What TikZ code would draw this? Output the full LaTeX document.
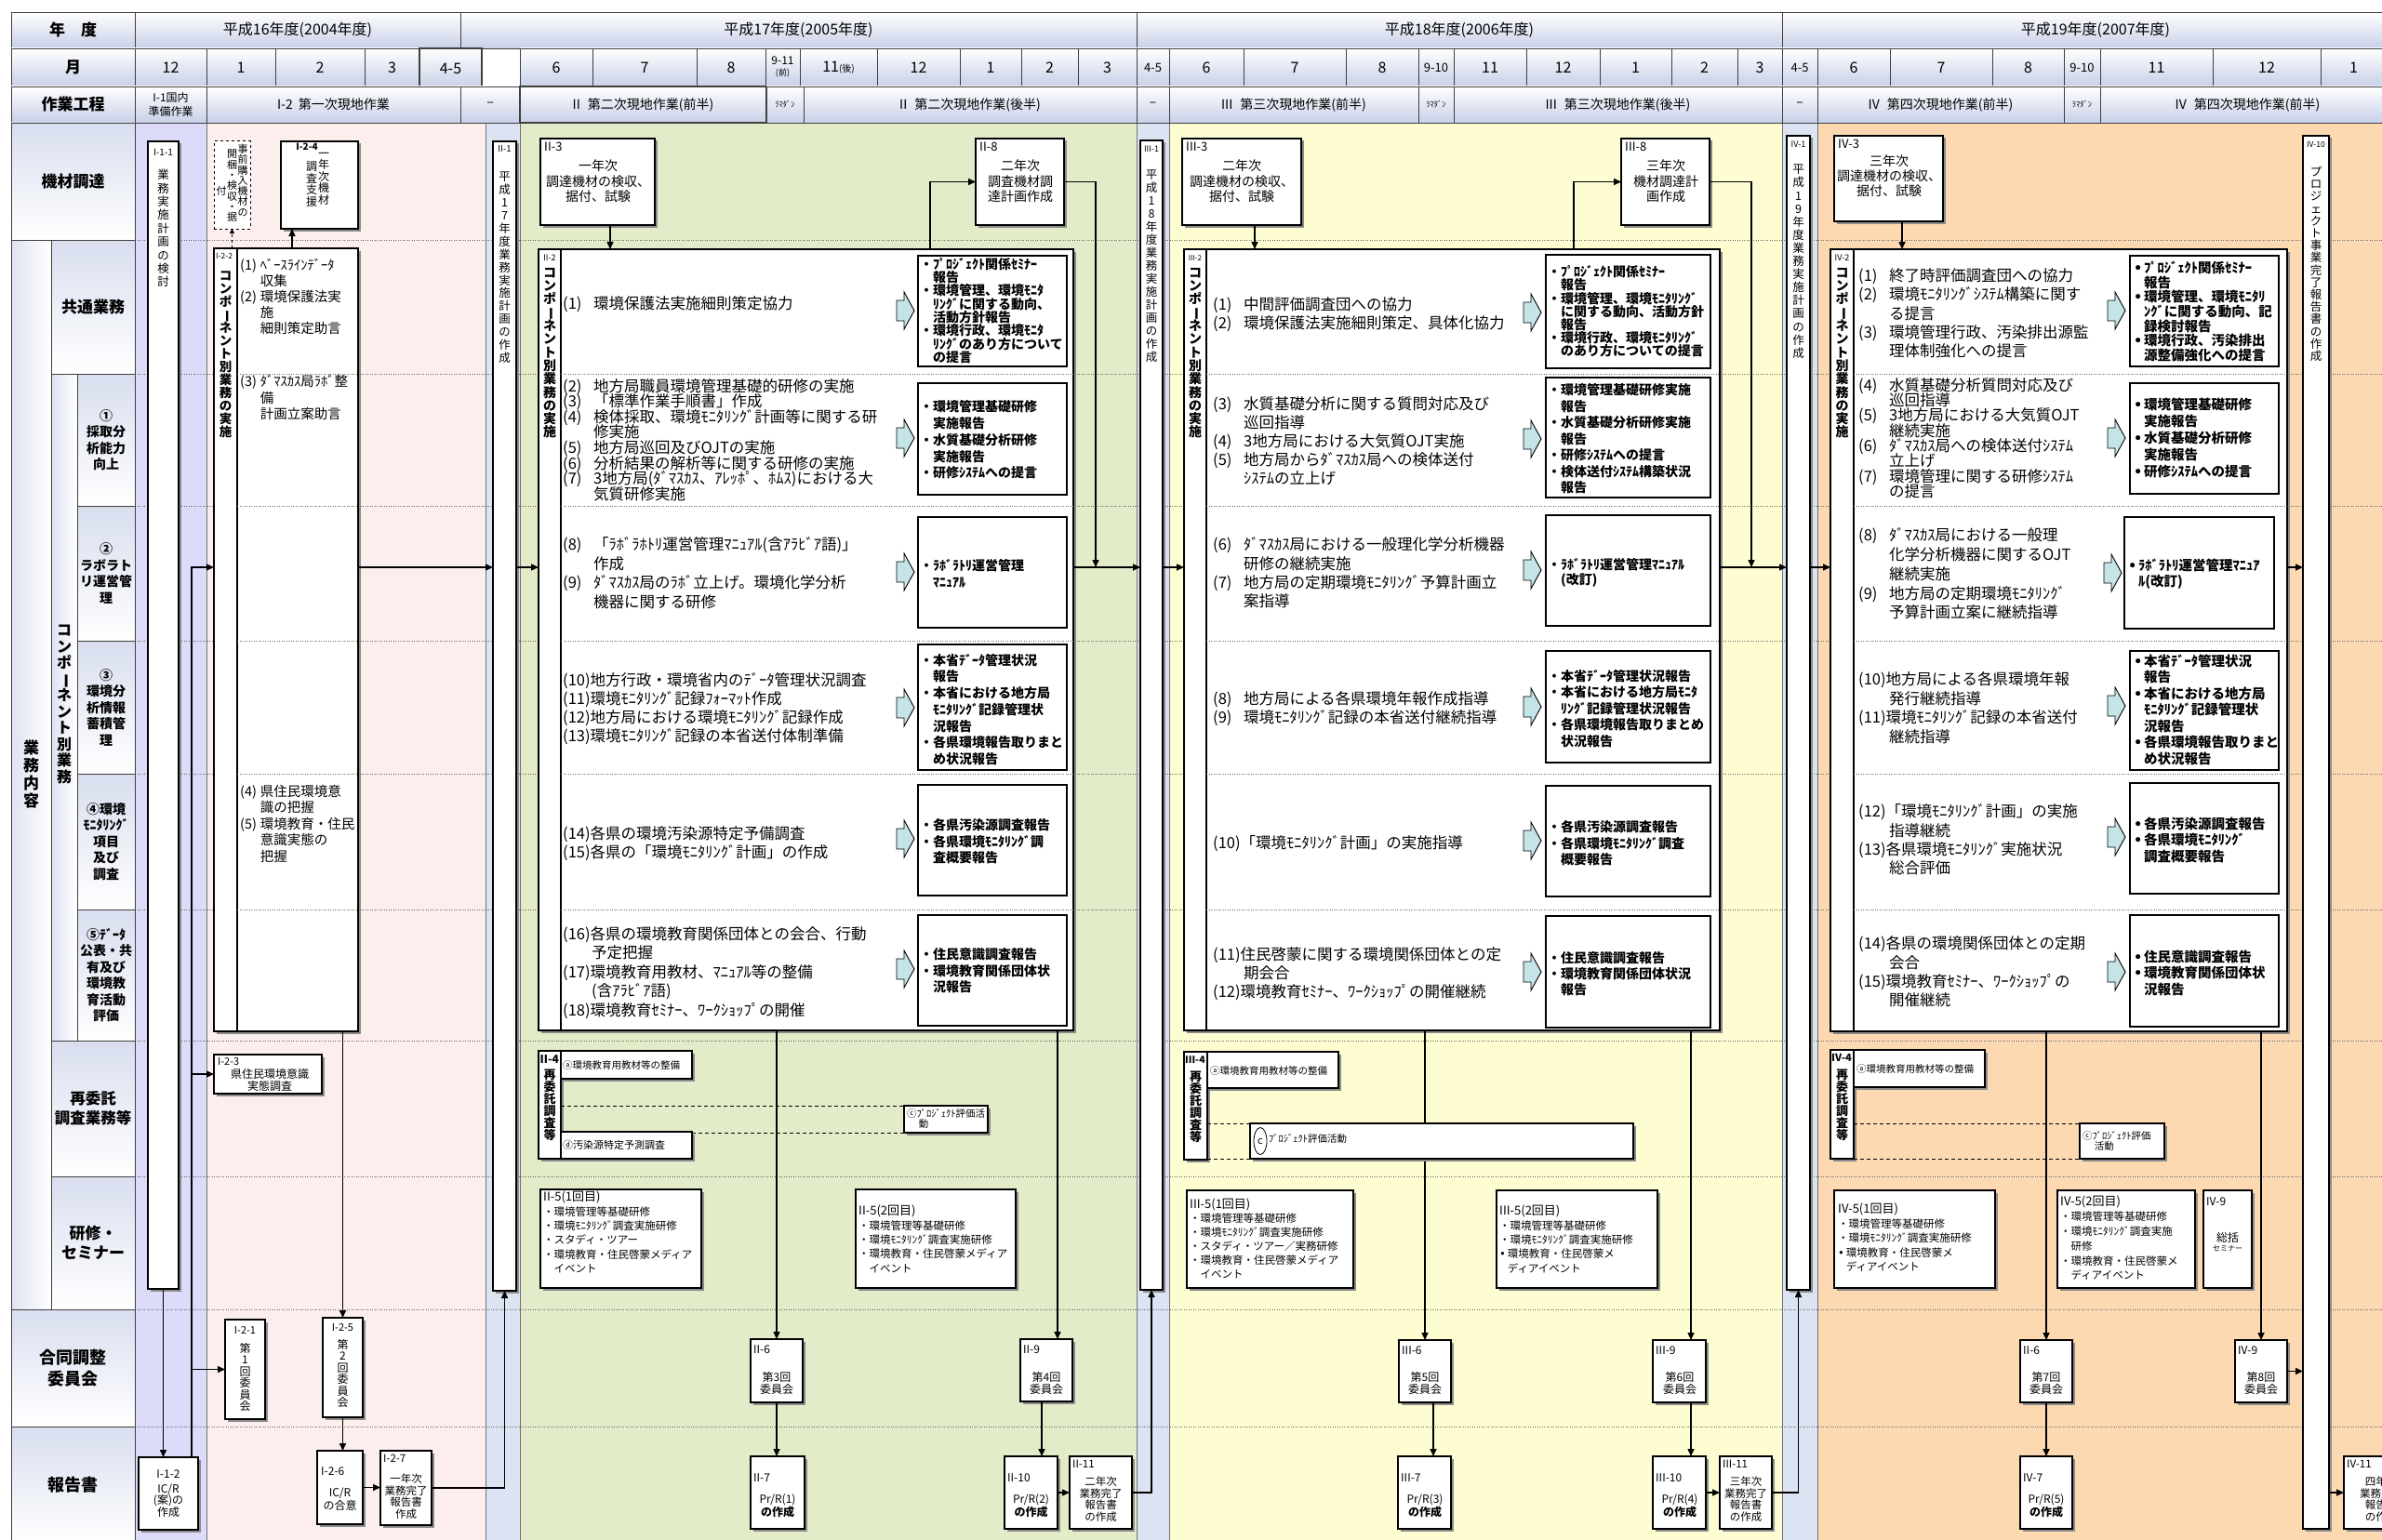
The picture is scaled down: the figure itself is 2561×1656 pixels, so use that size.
\documentclass[tikz,border=0pt]{standalone}
\usepackage{fontspec}
\usepackage{graphicx}
\setmainfont{Noto Sans CJK JP}
\newfontfamily\dv{DejaVu Sans}
\usetikzlibrary{arrows.meta,calc,shadows,shapes.geometric}
\definecolor{lavbg}{HTML}{DCDCFA}
\definecolor{pinkbg}{HTML}{FDEEEE}
\definecolor{bluebg}{HTML}{DCE4F4}
\definecolor{greenbg}{HTML}{E3ECC8}
\definecolor{yellowbg}{HTML}{FEFDD2}
\definecolor{peachbg}{HTML}{FDD9B2}
\definecolor{arrowc}{HTML}{C4E4E8}
\definecolor{hdrb}{HTML}{C8D0E8}
\newcommand\fs[2]{\fontsize{#1}{#2}\selectfont\lineskiplimit=-100pt\relax}
\newcommand\im[3][2em]{\makebox[#1][l]{#2}#3}
\newcommand\bul{\makebox[.75em][l]{\dv\char"2022}}
\newcommand\cc[1]{#1}
\makeatletter
\newcommand\vtxt[2][1.1em]{\vtop{\baselineskip=#1\relax\lineskiplimit=-1000pt\lineskip=0pt\vt@aux#2\relax}}
\def\vt@aux#1{\ifx\relax#1\else\vt@char{#1}\expandafter\vt@aux\fi}
\def\vt@char#1{\hbox to 1.2em{\hss\vt@rot#1\hss}}
\def\vt@rot#1{\ifx ー#1\rotatebox[origin=c]{-90}{ー}\else#1\fi}
\makeatother
\newcommand\hc[7][]{\node[hdr,anchor=north west,minimum width={(#5-#3)*1pt},minimum height={(#6-#4)*1pt},align=center,#1] (#2) at (#3,#4) {#7};}
\newcommand\bx[7][]{\node[box,anchor=north west,minimum width={(#5-#3)*1pt},minimum height={(#6-#4)*1pt},align=center,#1] (#2) at (#3,#4) {#7};}
\newcommand\rb[5]{\node[rbox,anchor=north west,minimum width={(#4-#2)*1pt},minimum height={(#5-#3)*1pt}] (#1) at (#2,#3) {};}
\newcommand\barr[2]{\filldraw[fill=arrowc,draw=black,line width=0.9pt] (#1,#2) ++(0,-11) -- ++(8,0) -- ++(0,-9) -- ++(11,20) -- ++(-11,20) -- ++(0,-9) -- ++(-8,0) -- cycle;}
\begin{document}
\begin{tikzpicture}[x=1pt,y=-1pt,
  box/.style={draw=black,line width=1.2pt,fill=white,inner sep=0pt,outer sep=0pt,drop shadow={shadow xshift=2.5pt,shadow yshift=-2.5pt,fill=black!45,opacity=1}},
  rbox/.style={draw=black,line width=1.1pt,fill=white,inner sep=0pt,outer sep=0pt},
  hdr/.style={draw=black!75,line width=0.8pt,top color=white,bottom color=hdrb,inner sep=0pt,outer sep=0pt,font=\fs{16}{18}},
  lbc/.style={draw=black!75,line width=0.8pt,top color=hdrb!70,bottom color=white,inner sep=0pt,outer sep=0pt,font=\fs{17}{21}\bfseries},
  lbv/.style={draw=black!75,line width=0.8pt,left color=hdrb!60,right color=white,inner sep=0pt,outer sep=0pt},
  idl/.style={inner sep=0pt,font=\fs{12.5}{12.5}},
  itx/.style={inner sep=0pt,align=left,anchor=west},
  ctx/.style={inner sep=0pt,align=center},
  vtx/.style={inner sep=0pt,anchor=north},
  arr/.style={line width=1.5pt,-{Triangle[length=8pt,width=7pt]}},
  arrs/.style={line width=0.9pt,dashed,-{Triangle[length=5pt,width=5pt]}},
  dsh/.style={line width=1pt,dash pattern=on 4pt off 3pt},
  rowl/.style={draw=black!60,line width=0.6pt,dash pattern=on 1pt off 1.5pt}
]
\useasboundingbox (0,0) rectangle (2561,1656);
\clip (0,0) rectangle (2561,1656);
\fill[white] (0,0) rectangle (2561,1656);
% ---------------- column backgrounds
\fill[lavbg] (145,132) rectangle (222,1656);
\fill[pinkbg] (222,132) rectangle (522,1656);
\fill[bluebg] (522,132) rectangle (559,1656);
\fill[greenbg] (559,132) rectangle (1222,1656);
\fill[bluebg] (1222,132) rectangle (1257,1656);
\fill[yellowbg] (1257,132) rectangle (1916,1656);
\fill[bluebg] (1916,132) rectangle (1954,1656);
\fill[peachbg] (1954,132) rectangle (2561,1656);
\foreach \x in {145,222,522,559,1222,1257,1916,1954} \draw[black!55,line width=0.6pt] (\x,132) -- (\x,1656);
\foreach \y in {258,402,544,689,832,978,1119,1265,1408,1534} \draw[rowl] (145,\y) -- (2561,\y);
% ---------------- header
\hc[font=\fs{17}{18}\bfseries]{hA}{12}{13}{145}{52}{年　度}
\hc{hY16}{145}{13}{495}{52}{平成16年度(2004年度)}
\hc{hY17}{495}{13}{1222}{52}{平成17年度(2005年度)}
\hc{hY18}{1222}{13}{1916}{52}{平成18年度(2006年度)}
\hc{hY19}{1916}{13}{2590}{52}{平成19年度(2007年度)}
\hc[font=\fs{17}{18}\bfseries]{hB}{12}{52}{145}{93}{月}
\hc{m1}{145}{52}{222}{93}{12}
\hc{m2}{222}{52}{296}{93}{1}
\hc{m3}{296}{52}{392}{93}{2}
\hc{m4}{392}{52}{451}{93}{3}
\hc[line width=1.2pt]{m5}{451}{52}{518}{95}{4-5}
\node[draw=black!75,line width=0.8pt,fill=white,anchor=north west,minimum width=41pt,minimum height=41pt,inner sep=0pt] (m6) at (518,52) {};
\hc{m7}{559}{52}{637}{93}{6}
\hc{m8}{637}{52}{749}{93}{7}
\hc{m9}{749}{52}{823}{93}{8}
\hc[font=\fs{12}{12}]{m10}{823}{52}{860}{93}{9-11\\{\fs{9}{10}(前)}}
\hc{m11}{860}{52}{943}{93}{11{\fs{10}{10}(後)}}
\hc{m12}{943}{52}{1032}{93}{12}
\hc{m13}{1032}{52}{1098}{93}{1}
\hc{m14}{1098}{52}{1159}{93}{2}
\hc{m15}{1159}{52}{1222}{93}{3}
\hc[font=\fs{13}{13}]{m16}{1222}{52}{1257}{93}{4-5}
\hc{m17}{1257}{52}{1337}{93}{6}
\hc{m18}{1337}{52}{1447}{93}{7}
\hc{m19}{1447}{52}{1525}{93}{8}
\hc[font=\fs{13}{13}]{m20}{1525}{52}{1563}{93}{9-10}
\hc{m21}{1563}{52}{1641}{93}{11}
\hc{m22}{1641}{52}{1720}{93}{12}
\hc{m23}{1720}{52}{1797}{93}{1}
\hc{m24}{1797}{52}{1868}{93}{2}
\hc{m25}{1868}{52}{1916}{93}{3}
\hc[font=\fs{13}{13}]{m26}{1916}{52}{1954}{93}{4-5}
\hc{m27}{1954}{52}{2032}{93}{6}
\hc{m28}{2032}{52}{2142}{93}{7}
\hc{m29}{2142}{52}{2219}{93}{8}
\hc[font=\fs{13}{13}]{m30}{2219}{52}{2258}{93}{9-10}
\hc{m31}{2258}{52}{2379}{93}{11}
\hc{m32}{2379}{52}{2495}{93}{12}
\hc{m33}{2495}{52}{2566}{93}{1}
\hc[font=\fs{17}{18}\bfseries]{hC}{12}{93}{145}{132}{作業工程}
\hc[font=\fs{12}{15}]{p1}{145}{93}{222}{132}{I-1国内\\準備作業}
\hc[font=\fs{14}{15}]{p2}{222}{93}{495}{132}{I-2\hspace{6pt}第一次現地作業}
\hc[font=\fs{14}{15}]{p3}{495}{93}{559}{132}{–}
\hc[font=\fs{14}{15},line width=1.2pt]{p4}{559}{93}{824}{132}{II\hspace{8pt}第二次現地作業(前半)}
\hc[font=\fs{8.5}{9}]{p5}{824}{93}{864}{132}{ﾗﾏﾀﾞﾝ}
\hc[font=\fs{14}{15}]{p6}{864}{93}{1222}{132}{II\hspace{8pt}第二次現地作業(後半)}
\hc[font=\fs{14}{15}]{p7}{1222}{93}{1257}{132}{–}
\hc[font=\fs{14}{15}]{p8}{1257}{93}{1525}{132}{III\hspace{8pt}第三次現地作業(前半)}
\hc[font=\fs{8.5}{9}]{p9}{1525}{93}{1563}{132}{ﾗﾏﾀﾞﾝ}
\hc[font=\fs{14}{15}]{p10}{1563}{93}{1916}{132}{III\hspace{8pt}第三次現地作業(後半)}
\hc[font=\fs{14}{15}]{p11}{1916}{93}{1954}{132}{–}
\hc[font=\fs{14}{15}]{p12}{1954}{93}{2219}{132}{IV\hspace{8pt}第四次現地作業(前半)}
\hc[font=\fs{8.5}{9}]{p13}{2219}{93}{2258}{132}{ﾗﾏﾀﾞﾝ}
\hc[font=\fs{14}{15}]{p14}{2258}{93}{2575}{132}{IV\hspace{8pt}第四次現地作業(前半)}
% ---------------- left labels
\hc[lbc]{L1}{12}{132}{145}{258}{機材調達}
\hc[lbv]{L2}{12}{258}{55}{1408}{}
\hc[lbc]{L3}{55}{258}{145}{402}{共通業務}
\hc[lbv]{L4}{55}{402}{83}{1119}{}
\hc[lbc,font=\fs{14}{17.5}\bfseries]{L5}{83}{402}{145}{544}{①\\採取分\\析能力\\向上}
\hc[lbc,font=\fs{14}{17.5}\bfseries]{L6}{83}{544}{145}{689}{②\\ラボラト\\リ運営管\\理}
\hc[lbc,font=\fs{14}{17.5}\bfseries]{L7}{83}{689}{145}{832}{③\\環境分\\析情報\\蓄積管\\理}
\hc[lbc,font=\fs{14}{17.5}\bfseries]{L8}{83}{832}{145}{978}{④環境\\ﾓﾆﾀﾘﾝｸﾞ\\項目\\及び\\調査}
\hc[lbc,font=\fs{14}{17.5}\bfseries]{L9}{83}{978}{145}{1119}{⑤ﾃﾞｰﾀ\\公表・共\\有及び\\環境教\\育活動\\評価}
\hc[lbc,font=\fs{16.5}{21}\bfseries]{L10}{55}{1119}{145}{1265}{再委託\\調査業務等}
\hc[lbc]{L11}{55}{1265}{145}{1408}{研修・\\セミナー}
\hc[lbc,font=\fs{18}{23}\bfseries]{L12}{12}{1408}{145}{1534}{合同調整\\委員会}
\hc[lbc,font=\fs{18}{23}\bfseries]{L13}{12}{1534}{145}{1660}{報告書}
\node[vtx,font=\fs{17}{17}\bfseries] (L2v) at (33.5,796) {\vtxt[19pt]{業務内容}};
\node[vtx,font=\fs{16}{16}\bfseries] (L4v) at (69,672) {\vtxt[17.5pt]{コンポーネント別業務}};
\coordinate (fy) at (0,610);
% ================= Period I
\bx{I11}{159}{152}{192}{1386}{}
\node[idl,font=\fs{10}{10}] (I11l) at (175.5,164) {I-1-1};
\node[vtx,font=\fs{12.5}{12.5}] (I11v) at (175.5,182) {\vtxt[14.4pt]{業務実施計画の検討}};
\bx[font=\fs{12}{12.6}]{I12}{149}{1567}{213}{1645}{I-1-2\\[3pt]IC/R\\(案)の\\作成}
\node[draw=black,line width=1pt,dashed,fill=white,minimum width=39pt,minimum height=94pt,anchor=north west,inner sep=0pt,outer sep=0pt] (DB) at (230,152) {};
\node[vtx,font=\fs{11}{11}] (DBv1) at (261,155) {\vtxt[11.3pt]{事前購入機材の}};
\node[vtx,font=\fs{11}{11}] (DBv2) at (249.5,161) {\vtxt[11.3pt]{開梱・検収・据}};
\node[vtx,font=\fs{11}{11}] (DBv3) at (238,200) {付};
\bx{I24}{302}{152}{385}{246}{}
\node[idl,font=\fs{10}{10}\bfseries] (I24l) at (330,158) {I-2-4};
\node[vtx,font=\fs{12}{12}] (I24v1) at (348,164) {\vtxt[12.5pt]{一年次機材}};
\node[vtx,font=\fs{12}{12}] (I24v2) at (335,174) {\vtxt[12.5pt]{調査支援}};
\bx{I22}{230}{267}{385}{1109}{}
\draw[line width=1.2pt] (255,267) -- (255,1109);
\foreach \y in {402,544,689,832,978} \draw[rowl] (255,\y) -- (385,\y);
\node[idl,anchor=north west,font=\fs{8.5}{8.5}] (I22l) at (232,272) {I-2-2};
\node[vtx,font=\fs{13.5}{13.5}\bfseries] (I22v) at (242.5,292) {\vtxt[14pt]{コンポーネント別業務の実施}};
\node[itx,anchor=north west,font=\fs{14.5}{17}] (I22a) at (258,278) {\im[1.5em]{(1)}{ﾍﾞｰｽﾗｲﾝﾃﾞｰﾀ}\\\im[1.5em]{}{収集}\\\im[1.5em]{(2)}{環境保護法実}\\\im[1.5em]{}{施}\\\im[1.5em]{}{細則策定助言}};
\node[itx,anchor=north west,font=\fs{14.5}{17.5}] (I22b) at (258,403) {\im[1.5em]{(3)}{ﾀﾞﾏｽｶｽ局ﾗﾎﾞ整}\\\im[1.5em]{}{備}\\\im[1.5em]{}{計画立案助言}};
\node[itx,anchor=north west,font=\fs{14.5}{17.5}] (I22c) at (258,844) {\im[1.5em]{(4)}{県住民環境意}\\\im[1.5em]{}{識の把握}\\\im[1.5em]{(5)}{環境教育・住民}\\\im[1.5em]{}{意識実態の}\\\im[1.5em]{}{把握}};
\bx{I23}{230}{1134}{346}{1176}{}
\node[idl,anchor=north west,font=\fs{11}{11}] (I23l) at (234,1137) {I-2-3};
\node[ctx,font=\fs{12}{13}] (I23t) at (290,1161) {県住民環境意識\\実態調査};
\bx{I21}{242}{1419}{285}{1526}{}
\node[idl,font=\fs{11}{11}] (I21l) at (263.5,1430) {I-2-1};
\node[vtx,font=\fs{12}{12}] (I21v) at (263.5,1444) {\vtxt[12.5pt]{第1回委員会}};
\bx{I25}{347}{1417}{390}{1524}{}
\node[idl,font=\fs{11}{11}] (I25l) at (368.5,1428) {I-2-5};
\node[vtx,font=\fs{12}{12}] (I25v) at (368.5,1440) {\vtxt[12.5pt]{第2回委員会}};
\bx{I26}{341}{1560}{390}{1639}{}
\node[idl,anchor=west,font=\fs{12}{12}] (I26l) at (345,1582) {I-2-6};
\node[ctx,font=\fs{12}{13.5}] (I26t) at (365.5,1612) {IC/R\\の合意};
\bx{I27}{409}{1560}{464}{1640}{}
\node[idl,anchor=north west,font=\fs{11.5}{11.5}] (I27l) at (412,1564) {I-2-7};
\node[ctx,font=\fs{11.5}{12.5}] (I27t) at (436.5,1609) {一年次\\業務完了\\報告書\\作成};
\bx{II1}{530}{152}{555}{1388}{}
\node[idl,font=\fs{9.5}{9.5}] (II1l) at (542.5,160) {II-1};
\node[vtx,font=\fs{12.5}{12.5}] (II1v) at (542.5,185) {\vtxt[13.9pt]{平成17年度業務実施計画の作成}};
\coordinate (lx) at (206,0);
\coordinate (ax) at (314,0);
\draw[arr] (I11.south) -- (I11.south |- I12.north);
\draw[arr] (I12.north -| lx) |- (I22.west |- fy);
\draw[arr] (lx |- I23.west) -- (I23.west);
\draw[arr] (lx |- I21.west) -- (I21.west);
\draw[arrs] (I22.north -| DB.south) -- (DB.south);
\draw[arr] (I22.north -| ax) -- (I24.south -| ax);
\draw[arr] (I22.east |- fy) -- (II1.west |- fy);
\draw[arr] (I25.north |- I22.south) -- (I25.north);
\draw[arr] (I25.south) -- (I25.south |- I26.north);
\draw[arr] (I26.east) -- (I26.east -| I27.west);
\draw[arr] (I27.east) -| (II1.south);
% ================= Period II
\bx{II3}{581}{149}{704}{242}{}
\node[idl,anchor=north west,font=\fs{13}{13}] (II3l) at (585,153) {II-3};
\node[ctx,font=\fs{14}{16.5}] (II3t) at (643,195) {一年次\\調達機材の検収、\\据付、試験};
\bx{II8}{1049}{149}{1144}{242}{}
\node[idl,anchor=north west,font=\fs{13}{13}] (II8l) at (1053,153) {II-8};
\node[ctx,font=\fs{14}{16.5}] (II8t) at (1097,195) {二年次\\調査機材調\\達計画作成};
\bx{II2}{579}{268}{1154}{1108}{}
\draw[line width=1.2pt] (603,268) -- (603,1108);
\foreach \y in {402,544,689,832,978} \draw[rowl] (603,\y) -- (1154,\y);
\node[idl,anchor=north,font=\fs{9}{9}] (II2l) at (591,274) {II-2};
\node[vtx,font=\fs{14}{14}\bfseries] (II2v) at (591,288) {\vtxt[14.3pt]{コンポーネント別業務の実施}};
\node[itx,font=\fs{16.5}{16.6}] (II2a) at (605,327) {\im{(1)}{環境保護法実施細則策定協力}};
\node[itx,font=\fs{16.5}{16.6}] (II2b) at (605,473) {\im{(2)}{地方局職員環境管理基礎的研修の実施}\\\im{(3)}{「標準作業手順書」作成}\\\im{(4)}{検体採取、環境ﾓﾆﾀﾘﾝｸﾞ計画等に関する研}\\\im{}{修実施}\\\im{(5)}{地方局巡回及びOJTの実施}\\\im{(6)}{分析結果の解析等に関する研修の実施}\\\im{(7)}{3地方局(ﾀﾞﾏｽｶｽ、ｱﾚｯﾎﾟ、ﾎﾑｽ)における大}\\\im{}{気質研修実施}};
\node[itx,font=\fs{16.5}{20.7}] (II2c) at (605,616) {\im{(8)}{「ﾗﾎﾞﾗﾎﾄﾘ運営管理ﾏﾆｭｱﾙ(含ｱﾗﾋﾞｱ語)」}\\\im{}{作成}\\\im{(9)}{ﾀﾞﾏｽｶｽ局のﾗﾎﾞ立上げ。環境化学分析}\\\im{}{機器に関する研修}};
\node[itx,font=\fs{16.5}{20}] (II2d) at (605,762) {(10)地方行政・環境省内のﾃﾞｰﾀ管理状況調査\\(11)環境ﾓﾆﾀﾘﾝｸﾞ記録ﾌｫｰﾏｯﾄ作成\\(12)地方局における環境ﾓﾆﾀﾘﾝｸﾞ記録作成\\(13)環境ﾓﾆﾀﾘﾝｸﾞ記録の本省送付体制準備};
\node[itx,font=\fs{16.5}{20}] (II2e) at (605,907) {(14)各県の環境汚染源特定予備調査\\(15)各県の「環境ﾓﾆﾀﾘﾝｸﾞ計画」の作成};
\node[itx,font=\fs{16.5}{20.5}] (II2f) at (605,1046) {(16)各県の環境教育関係団体との会合、行動\\\hspace*{31pt}予定把握\\(17)環境教育用教材、ﾏﾆｭｱﾙ等の整備\\\hspace*{31pt}(含ｱﾗﾋﾞｱ語)\\(18)環境教育ｾﾐﾅｰ、ﾜｰｸｼｮｯﾌﾟの開催};
\rb{IIR1}{987}{275}{1147}{394}
\rb{IIR2}{987}{412}{1147}{532}
\rb{IIR3}{987}{556}{1147}{675}
\rb{IIR4}{987}{693}{1147}{828}
\rb{IIR5}{987}{844}{1147}{963}
\rb{IIR6}{987}{984}{1147}{1103}
\node[itx,font=\fs{14}{14.3}\bfseries] (IIR1t) at (989,334) {・ﾌﾟﾛｼﾞｪｸﾄ関係ｾﾐﾅｰ\\\hspace*{1em}報告\\・環境管理、環境ﾓﾆﾀ\\\hspace*{1em}ﾘﾝｸﾞに関する動向、\\\hspace*{1em}活動方針報告\\・環境行政、環境ﾓﾆﾀ\\\hspace*{1em}ﾘﾝｸﾞのあり方について\\\hspace*{1em}の提言};
\node[itx,font=\fs{14}{17.8}\bfseries] (IIR2t) at (989,473) {・環境管理基礎研修\\\hspace*{1em}実施報告\\・水質基礎分析研修\\\hspace*{1em}実施報告\\・研修ｼｽﾃﾑへの提言};
\node[itx,font=\fs{14}{18}\bfseries] (IIR3t) at (989,617) {・ﾗﾎﾞﾗﾄﾘ運営管理\\\hspace*{1em}ﾏﾆｭｱﾙ};
\node[itx,font=\fs{14}{17.7}\bfseries] (IIR4t) at (989,763) {・本省ﾃﾞｰﾀ管理状況\\\hspace*{1em}報告\\・本省における地方局\\\hspace*{1em}ﾓﾆﾀﾘﾝｸﾞ記録管理状\\\hspace*{1em}況報告\\・各県環境報告取りまと\\\hspace*{1em}め状況報告};
\node[itx,font=\fs{14}{17.5}\bfseries] (IIR5t) at (989,905) {・各県汚染源調査報告\\・各県環境ﾓﾆﾀﾘﾝｸﾞ調\\\hspace*{1em}査概要報告};
\node[itx,font=\fs{14}{17.5}\bfseries] (IIR6t) at (989,1044) {・住民意識調査報告\\・環境教育関係団体状\\\hspace*{1em}況報告};
\barr{964}{334}\barr{964}{471}\barr{964}{615}\barr{964}{761}\barr{964}{902}\barr{964}{1042}
\bx{II4}{579}{1130}{603}{1246}{}
\bx{II4a}{603}{1130}{744}{1160}{}
\bx{II4d}{603}{1217}{744}{1246}{}
\bx{II4c}{972}{1189}{1062}{1218}{}
\node[idl,anchor=north west,font=\fs{12}{12}\bfseries] (II4l) at (580.5,1134) {II-4};
\node[vtx,font=\fs{13}{13}\bfseries] (II4v) at (591,1150) {\vtxt[13pt]{再委託調査等}};
\node[itx,font=\fs{10.5}{10.5}] (II4at) at (605,1145) {\cc{ⓐ}環境教育用教材等の整備};
\node[itx,font=\fs{11}{11}] (II4dt) at (605,1231) {\cc{ⓓ}汚染源特定予測調査};
\node[itx,font=\fs{10.5}{11.5}] (II4ct) at (975,1203) {\cc{ⓒ}ﾌﾟﾛｼﾞｪｸﾄ評価活\\\hspace*{1.2em}動};
\draw[dsh] (II4.east |- II4c.north) -- (II4c.north west);
\draw[dsh] (II4d.east |- II4c.south) -- (II4c.south west);
\bx{II5a}{581}{1279}{754}{1385}{}
\node[itx,anchor=north west,font=\fs{11.5}{15.3}] (II5at) at (584,1281) {{\fs{13}{15.3}II-5(1回目)}\\・環境管理等基礎研修\\・環境ﾓﾆﾀﾘﾝｸﾞ調査実施研修\\・スタディ・ツアー\\・環境教育・住民啓蒙メディア\\\hspace*{1em}イベント};
\bx{II5b}{920}{1279}{1092}{1385}{}
\node[itx,anchor=north west,font=\fs{11.5}{15.3}] (II5bt) at (923,1296) {{\fs{13}{15.3}II-5(2回目)}\\・環境管理等基礎研修\\・環境ﾓﾆﾀﾘﾝｸﾞ調査実施研修\\・環境教育・住民啓蒙メディア\\\hspace*{1em}イベント};
\bx{II6}{807}{1440}{863}{1508}{}
\node[idl,anchor=north west,font=\fs{12}{12}] (II6l) at (810,1446) {II-6};
\node[ctx,font=\fs{12}{13}] (II6t) at (835,1487) {第3回\\委員会};
\bx{II9}{1097}{1440}{1153}{1507}{}
\node[idl,anchor=north west,font=\fs{12}{12}] (II9l) at (1100,1446) {II-9};
\node[ctx,font=\fs{12}{13}] (II9t) at (1125,1487) {第4回\\委員会};
\bx{II7}{807}{1566}{865}{1644}{}
\node[idl,anchor=west,font=\fs{12}{12}] (II7l) at (810,1589) {II-7};
\node[ctx,font=\fs{12}{13.5}] (II7t) at (836,1619) {Pr/R(1)\\{\bfseries の作成}};
\bx{II10}{1080}{1566}{1137}{1644}{}
\node[idl,anchor=west,font=\fs{12}{12}] (II10l) at (1083,1589) {II-10};
\node[ctx,font=\fs{12}{13.5}] (II10t) at (1108.5,1619) {Pr/R(2)\\{\bfseries の作成}};
\bx{II11}{1150}{1566}{1217}{1644}{}
\node[idl,anchor=north west,font=\fs{11.5}{11.5}] (II11l) at (1153,1570) {II-11};
\node[ctx,font=\fs{11.5}{12.6}] (II11t) at (1183.5,1612) {二年次\\業務完了\\報告書\\の作成};
\bx{III1}{1226}{151}{1250}{1387}{}
\node[idl,font=\fs{9}{9}] (III1l) at (1238,160) {III-1};
\node[vtx,font=\fs{12.5}{12.5}] (III1v) at (1238,183) {\vtxt[14pt]{平成18年度業務実施計画の作成}};
\coordinate (c656) at (656,0);
\coordinate (c1000) at (1000,0);
\coordinate (c1178) at (1178,0);
\coordinate (c1137) at (1137,0);
\coordinate (c1120) at (1120,0);
\draw[arr] (II1.east |- fy) -- (II2.west |- fy);
\draw[arr] (II3.south -| c656) -- (II2.north -| c656);
\draw[arr] (II2.north -| c1000) |- (II8.west);
\draw[arr] (II8.east) -| (c1178 |- fy);
\draw[arr] (II2.east |- fy) -- (III1.west |- fy);
\draw[arr] (II6.north |- II2.south) -- (II6.north);
\draw[arr] (II2.south -| c1137) -- (II9.north -| c1137);
\draw[arr] (II6.south) -- (II6.south |- II7.north);
\draw[arr] (II9.south -| c1120) -- (II10.north -| c1120);
\draw[arr] (II10.east) -- (II10.east -| II11.west);
\draw[arr] (II11.east) -| (III1.south);
% ================= Period III
\bx{III3}{1271}{149}{1399}{242}{}
\node[idl,anchor=north west,font=\fs{13}{13}] (III3l) at (1275,153) {III-3};
\node[ctx,font=\fs{14}{16.5}] (III3t) at (1335,195) {二年次\\調達機材の検収、\\据付、試験};
\bx{III8}{1743}{149}{1838}{242}{}
\node[idl,anchor=north west,font=\fs{13}{13}] (III8l) at (1747,153) {III-8};
\node[ctx,font=\fs{14}{16.5}] (III8t) at (1791,195) {三年次\\機材調達計\\画作成};
\bx{III2}{1273}{268}{1849}{1108}{}
\draw[line width=1.2pt] (1297,268) -- (1297,1108);
\foreach \y in {402,544,689,832,978} \draw[rowl] (1297,\y) -- (1849,\y);
\node[idl,anchor=north,font=\fs{8}{8}] (III2l) at (1285,274) {III-2};
\node[vtx,font=\fs{14}{14}\bfseries] (III2v) at (1285,288) {\vtxt[14.3pt]{コンポーネント別業務の実施}};
\node[itx,font=\fs{16.5}{20}] (III2a) at (1304,338) {\im{(1)}{中間評価調査団への協力}\\\im{(2)}{環境保護法実施細則策定、具体化協力}};
\node[itx,font=\fs{16.5}{20}] (III2b) at (1304,474) {\im{(3)}{水質基礎分析に関する質問対応及び}\\\im{}{巡回指導}\\\im{(4)}{3地方局における大気質OJT実施}\\\im{(5)}{地方局からﾀﾞﾏｽｶｽ局への検体送付}\\\im{}{ｼｽﾃﾑの立上げ}};
\node[itx,font=\fs{16.5}{20.3}] (III2c) at (1304,616) {\im{(6)}{ﾀﾞﾏｽｶｽ局における一般理化学分析機器}\\\im{}{研修の継続実施}\\\im{(7)}{地方局の定期環境ﾓﾆﾀﾘﾝｸﾞ予算計画立}\\\im{}{案指導}};
\node[itx,font=\fs{16.5}{19.5}] (III2d) at (1304,762) {\im{(8)}{地方局による各県環境年報作成指導}\\\im{(9)}{環境ﾓﾆﾀﾘﾝｸﾞ記録の本省送付継続指導}};
\node[itx,font=\fs{16.5}{20}] (III2e) at (1304,907) {(10)「環境ﾓﾆﾀﾘﾝｸﾞ計画」の実施指導};
\node[itx,font=\fs{16.5}{20}] (III2f) at (1304,1047) {(11)住民啓蒙に関する環境関係団体との定\\\hspace*{2em}期会合\\(12)環境教育ｾﾐﾅｰ、ﾜｰｸｼｮｯﾌﾟの開催継続};
\rb{IIIR1}{1662}{274}{1839}{396}
\rb{IIIR2}{1662}{406}{1839}{535}
\rb{IIIR3}{1662}{554}{1839}{673}
\rb{IIIR4}{1662}{700}{1839}{820}
\rb{IIIR5}{1662}{845}{1839}{964}
\rb{IIIR6}{1662}{985}{1839}{1105}
\node[itx,font=\fs{14}{14.2}\bfseries] (IIIR1t) at (1664,335) {・ﾌﾟﾛｼﾞｪｸﾄ関係ｾﾐﾅｰ\\\hspace*{1em}報告\\・環境管理、環境ﾓﾆﾀﾘﾝｸﾞ\\\hspace*{1em}に関する動向、活動方針\\\hspace*{1em}報告\\・環境行政、環境ﾓﾆﾀﾘﾝｸﾞ\\\hspace*{1em}のあり方についての提言};
\node[itx,font=\fs{14}{17.5}\bfseries] (IIIR2t) at (1664,472) {・環境管理基礎研修実施\\\hspace*{1em}報告\\・水質基礎分析研修実施\\\hspace*{1em}報告\\・研修ｼｽﾃﾑへの提言\\・検体送付ｼｽﾃﾑ構築状況\\\hspace*{1em}報告};
\node[itx,font=\fs{14}{16}\bfseries] (IIIR3t) at (1664,616) {・ﾗﾎﾞﾗﾄﾘ運営管理ﾏﾆｭｱﾙ\\\hspace*{1em}(改訂)};
\node[itx,font=\fs{14}{17.5}\bfseries] (IIIR4t) at (1664,762) {・本省ﾃﾞｰﾀ管理状況報告\\・本省における地方局ﾓﾆﾀ\\\hspace*{1em}ﾘﾝｸﾞ記録管理状況報告\\・各県環境報告取りまとめ\\\hspace*{1em}状況報告};
\node[itx,font=\fs{14}{17.5}\bfseries] (IIIR5t) at (1664,907) {・各県汚染源調査報告\\・各県環境ﾓﾆﾀﾘﾝｸﾞ調査\\\hspace*{1em}概要報告};
\node[itx,font=\fs{14}{17}\bfseries] (IIIR6t) at (1664,1047) {・住民意識調査報告\\・環境教育関係団体状況\\\hspace*{1em}報告};
\barr{1638}{336}\barr{1638}{472}\barr{1638}{613}\barr{1638}{760}\barr{1638}{904}\barr{1638}{1045}
\bx{III6}{1504}{1441}{1560}{1508}{}
\node[idl,anchor=north west,font=\fs{12}{12}] (III6l) at (1507,1447) {III-6};
\node[ctx,font=\fs{12}{13}] (III6t) at (1532,1487) {第5回\\委員会};
\bx{III9}{1777}{1441}{1834}{1508}{}
\node[idl,anchor=north west,font=\fs{12}{12}] (III9l) at (1780,1447) {III-9};
\node[ctx,font=\fs{12}{13}] (III9t) at (1806,1487) {第6回\\委員会};
\bx{III7}{1503}{1566}{1560}{1644}{}
\node[idl,anchor=west,font=\fs{12}{12}] (III7l) at (1506,1589) {III-7};
\node[ctx,font=\fs{12}{13.5}] (III7t) at (1532,1619) {Pr/R(3)\\{\bfseries の作成}};
\bx{III10}{1777}{1566}{1834}{1644}{}
\node[idl,anchor=west,font=\fs{12}{12}] (III10l) at (1780,1589) {III-10};
\node[ctx,font=\fs{12}{13.5}] (III10t) at (1806,1619) {Pr/R(4)\\{\bfseries の作成}};
\bx{III11}{1849}{1566}{1905}{1644}{}
\node[idl,anchor=north west,font=\fs{11.5}{11.5}] (III11l) at (1852,1570) {III-11};
\node[ctx,font=\fs{11.5}{12.6}] (III11t) at (1877,1612) {三年次\\業務完了\\報告書\\の作成};
\bx{IV1}{1921}{146}{1946}{1387}{}
\node[idl,font=\fs{9}{9}] (IV1l) at (1933.5,155) {IV-1};
\node[vtx,font=\fs{12.5}{12.5}] (IV1v) at (1933.5,177) {\vtxt[14.1pt]{平成19年度業務実施計画の作成}};
\coordinate (c1349) at (1349,0);
\coordinate (c1692) at (1692,0);
\coordinate (c1883) at (1883,0);
\coordinate (c1818) at (1818,0);
\coordinate (c1541) at (1541,0);
\draw[arr] (III1.east |- fy) -- (III2.west |- fy);
\draw[arr] (III3.south -| c1349) -- (III2.north -| c1349);
\draw[arr] (III2.north -| c1692) |- (III8.west);
\draw[arr] (III8.east) -| (c1883 |- fy);
\draw[arr] (III2.east |- fy) -- (IV1.west |- fy);
\draw[arr] (III6.north |- III2.south) -- (III6.north);
\draw[arr] (III2.south -| c1818) -- (III9.north -| c1818);
\draw[arr] (III6.south -| c1541) -- (III7.north -| c1541);
\draw[arr] (III9.south -| c1818) -- (III10.north -| c1818);
\draw[arr] (III10.east) -- (III10.east -| III11.west);
\draw[arr] (III11.east) -| (IV1.south);
\bx{III4}{1273}{1131}{1298}{1247}{}
\bx{III4a}{1298}{1131}{1439}{1170}{}
\bx{III4c}{1344}{1208}{1756}{1246}{}
\node[idl,anchor=north west,font=\fs{10.5}{10.5}\bfseries] (III4l) at (1274,1135) {III-4};
\node[vtx,font=\fs{13}{13}\bfseries] (III4v) at (1285.5,1152) {\vtxt[13pt]{再委託調査等}};
\node[itx,font=\fs{10.5}{10.5}] (III4at) at (1301,1151) {\cc{ⓐ}環境教育用教材等の整備};
\node[draw,ellipse,line width=0.8pt,inner sep=0pt,minimum width=14pt,minimum height=29pt,font=\fs{11}{11}] (III4cc) at (1355,1227) {c};
\node[itx,font=\fs{10.5}{10.5}] (III4ct) at (1364,1224) {ﾌﾟﾛｼﾞｪｸﾄ評価活動};
\draw[dsh] (III4.east |- III4c.north) -- (III4c.north west);
\draw[dsh] (III4.east |- III4c.south) -- (III4c.south west);
\bx{III5a}{1276}{1280}{1455}{1385}{}
\node[itx,anchor=north west,font=\fs{11.5}{15}] (III5at) at (1279,1289) {{\fs{13}{15}III-5(1回目)}\\・環境管理等基礎研修\\・環境ﾓﾆﾀﾘﾝｸﾞ調査実施研修\\・スタディ・ツアー／実務研修\\・環境教育・住民啓蒙メディア\\\hspace*{1em}イベント};
\bx{III5b}{1609}{1280}{1782}{1385}{}
\node[itx,anchor=north west,font=\fs{11.5}{15.3}] (III5bt) at (1612,1296) {{\fs{13}{15.3}III-5(2回目)}\\・環境管理等基礎研修\\・環境ﾓﾆﾀﾘﾝｸﾞ調査実施研修\\\bul 環境教育・住民啓蒙メ\\\hspace*{.75em}ディアイベント};
% ================= Period IV
\bx{IV3}{1972}{146}{2089}{238}{}
\node[idl,anchor=north west,font=\fs{13}{13}] (IV3l) at (1976,150) {IV-3};
\node[ctx,font=\fs{14}{16}] (IV3t) at (2031,189) {三年次\\調達機材の検収、\\据付、試験};
\bx{IV2}{1968}{268}{2459}{1109}{}
\draw[line width=1.2pt] (1993,268) -- (1993,1109);
\foreach \y in {402,544,689,832,978} \draw[rowl] (1993,\y) -- (2459,\y);
\node[idl,anchor=north,font=\fs{9}{9}] (IV2l) at (1980.5,274) {IV-2};
\node[vtx,font=\fs{14}{14}\bfseries] (IV2v) at (1980.5,288) {\vtxt[14.3pt]{コンポーネント別業務の実施}};
\node[itx,font=\fs{16.5}{20.3}] (IV2a) at (1998,337) {\im{(1)}{終了時評価調査団への協力}\\\im{(2)}{環境ﾓﾆﾀﾘﾝｸﾞｼｽﾃﾑ構築に関す}\\\im{}{る提言}\\\im{(3)}{環境管理行政、汚染排出源監}\\\im{}{理体制強化への提言}};
\node[itx,font=\fs{16.5}{16.3}] (IV2b) at (1998,471) {\im{(4)}{水質基礎分析質問対応及び}\\\im{}{巡回指導}\\\im{(5)}{3地方局における大気質OJT}\\\im{}{継続実施}\\\im{(6)}{ﾀﾞﾏｽｶｽ局への検体送付ｼｽﾃﾑ}\\\im{}{立上げ}\\\im{(7)}{環境管理に関する研修ｼｽﾃﾑ}\\\im{}{の提言}};
\node[itx,font=\fs{16.5}{20.7}] (IV2c) at (1998,617) {\im{(8)}{ﾀﾞﾏｽｶｽ局における一般理}\\\im{}{化学分析機器に関するOJT}\\\im{}{継続実施}\\\im{(9)}{地方局の定期環境ﾓﾆﾀﾘﾝｸﾞ}\\\im{}{予算計画立案に継続指導}};
\node[itx,font=\fs{16.5}{20.5}] (IV2d) at (1998,761) {(10)地方局による各県環境年報\\\hspace*{2em}発行継続指導\\(11)環境ﾓﾆﾀﾘﾝｸﾞ記録の本省送付\\\hspace*{2em}継続指導};
\node[itx,font=\fs{16.5}{20.3}] (IV2e) at (1998,903) {(12)「環境ﾓﾆﾀﾘﾝｸﾞ計画」の実施\\\hspace*{2em}指導継続\\(13)各県環境ﾓﾆﾀﾘﾝｸﾞ実施状況\\\hspace*{2em}総合評価};
\node[itx,font=\fs{16.5}{20.3}] (IV2f) at (1998,1045) {(14)各県の環境関係団体との定期\\\hspace*{2em}会合\\(15)環境教育ｾﾐﾅｰ、ﾜｰｸｼｮｯﾌﾟの\\\hspace*{2em}開催継続};
\rb{IVR1}{2290}{275}{2450}{394}
\rb{IVR2}{2290}{412}{2450}{531}
\rb{IVR3}{2284}{556}{2445}{676}
\rb{IVR4}{2290}{700}{2450}{828}
\rb{IVR5}{2290}{842}{2450}{961}
\rb{IVR6}{2290}{984}{2450}{1104}
\node[itx,font=\fs{14.5}{15.6}\bfseries] (IVR1t) at (2294,335) {\bul ﾌﾟﾛｼﾞｪｸﾄ関係ｾﾐﾅｰ\\\hspace*{.75em}報告\\\bul 環境管理、環境ﾓﾆﾀﾘ\\\hspace*{.75em}ﾝｸﾞに関する動向、記\\\hspace*{.75em}録検討報告\\\bul 環境行政、汚染排出\\\hspace*{.75em}源整備強化への提言};
\node[itx,font=\fs{14.5}{17.8}\bfseries] (IVR2t) at (2294,471) {\bul 環境管理基礎研修\\\hspace*{.75em}実施報告\\\bul 水質基礎分析研修\\\hspace*{.75em}実施報告\\\bul 研修ｼｽﾃﾑへの提言};
\node[itx,font=\fs{14.5}{17}\bfseries] (IVR3t) at (2288,617) {\bul ﾗﾎﾞﾗﾄﾘ運営管理ﾏﾆｭｱ\\\hspace*{.75em}ﾙ(改訂)};
\node[itx,font=\fs{14.5}{17.5}\bfseries] (IVR4t) at (2294,763) {\bul 本省ﾃﾞｰﾀ管理状況\\\hspace*{.75em}報告\\\bul 本省における地方局\\\hspace*{.75em}ﾓﾆﾀﾘﾝｸﾞ記録管理状\\\hspace*{.75em}況報告\\\bul 各県環境報告取りまと\\\hspace*{.75em}め状況報告};
\node[itx,font=\fs{14.5}{17.5}\bfseries] (IVR5t) at (2294,903) {\bul 各県汚染源調査報告\\\bul 各県環境ﾓﾆﾀﾘﾝｸﾞ\\\hspace*{.75em}調査概要報告};
\node[itx,font=\fs{14.5}{17.5}\bfseries] (IVR6t) at (2294,1046) {\bul 住民意識調査報告\\\bul 環境教育関係団体状\\\hspace*{.75em}況報告};
\barr{2266}{334}\barr{2266}{471}\barr{2262}{616}\barr{2266}{759}\barr{2266}{900}\barr{2266}{1045}
\bx{IV10}{2476}{146}{2504}{1644}{}
\node[idl,font=\fs{8.5}{8.5}] (IV10l) at (2490,155) {IV-10};
\node[vtx,font=\fs{12.5}{12.5}] (IV10v) at (2490,179) {\vtxt[13.2pt]{プロジェクト事業完了報告書の作成}};
\bx{IV4}{1968}{1129}{1993}{1246}{}
\bx{IV4a}{1993}{1129}{2134}{1169}{}
\bx{IV4c}{2236}{1208}{2327}{1246}{}
\node[idl,anchor=north west,font=\fs{11}{11}\bfseries] (IV4l) at (1969,1133) {IV-4};
\node[vtx,font=\fs{13}{13}\bfseries] (IV4v) at (1980.5,1150) {\vtxt[13pt]{再委託調査等}};
\node[itx,font=\fs{10.5}{10.5}] (IV4at) at (1996,1149) {\cc{ⓐ}環境教育用教材等の整備};
\node[itx,font=\fs{10.5}{11.5}] (IV4ct) at (2239,1227) {\cc{ⓒ}ﾌﾟﾛｼﾞｪｸﾄ評価\\\hspace*{1.2em}活動};
\bx{IV5a}{1972}{1280}{2145}{1385}{}
\node[itx,anchor=north west,font=\fs{11.5}{15.5}] (IV5at) at (1976,1294) {{\fs{13}{15.5}IV-5(1回目)}\\・環境管理等基礎研修\\・環境ﾓﾆﾀﾘﾝｸﾞ調査実施研修\\\bul 環境教育・住民啓蒙メ\\\hspace*{.75em}ディアイベント};
\bx{IV5b}{2212}{1280}{2360}{1385}{}
\node[itx,anchor=north west,font=\fs{11.5}{15.8}] (IV5bt) at (2215,1286) {{\fs{13}{15.8}IV-5(2回目)}\\・環境管理等基礎研修\\・環境ﾓﾆﾀﾘﾝｸﾞ調査実施\\\hspace*{1em}研修\\・環境教育・住民啓蒙メ\\\hspace*{1em}ディアイベント};
\bx{IV9s}{2369}{1280}{2421}{1385}{}
\node[idl,anchor=north west,font=\fs{12}{12}] (IV9sl) at (2372,1287) {IV-9};
\node[ctx,font=\fs{12}{12}] (IV9st) at (2395,1331) {総括};
\node[ctx,font=\fs{8}{8}] (IV9st2) at (2395,1343) {セミナー};
\bx{IV6}{2172}{1441}{2228}{1508}{}
\node[idl,anchor=north west,font=\fs{12}{12}] (IV6l) at (2175,1447) {II-6};
\node[ctx,font=\fs{12}{13}] (IV6t) at (2200,1487) {第7回\\委員会};
\bx{IV9c}{2403}{1441}{2459}{1508}{}
\node[idl,anchor=north west,font=\fs{12}{12}] (IV9cl) at (2406,1447) {IV-9};
\node[ctx,font=\fs{12}{13}] (IV9ct) at (2431,1487) {第8回\\委員会};
\bx{IV7}{2172}{1566}{2228}{1644}{}
\node[idl,anchor=west,font=\fs{12}{12}] (IV7l) at (2175,1589) {IV-7};
\node[ctx,font=\fs{12}{13.5}] (IV7t) at (2200,1619) {Pr/R(5)\\{\bfseries の作成}};
\bx{IV11}{2520}{1566}{2600}{1644}{}
\node[idl,anchor=north west,font=\fs{11.5}{11.5}] (IV11l) at (2523,1570) {IV-11};
\node[ctx,font=\fs{11.5}{12.6}] (IV11t) at (2560,1612) {四年次\\業務完了\\報告書\\の作成};
\coordinate (c2045) at (2045,0);
\draw[arr] (IV1.east |- fy) -- (IV2.west |- fy);
\draw[arr] (IV3.south -| c2045) -- (IV2.north -| c2045);
\draw[arr] (IV2.east |- fy) -- (IV10.west |- fy);
\draw[arr] (IV6.north |- IV2.south) -- (IV6.north);
\draw[arr] (IV9c.north |- IV2.south) -- (IV9c.north);
\draw[arr] (IV6.south) -- (IV6.south |- IV7.north);
\draw[arr] (IV9c.east) -- (IV9c.east -| IV10.west);
\draw[arr] (IV10.east |- IV11.west) -- (IV11.west);
\draw[dsh] (IV4.east |- IV4c.north) -- (IV4c.north west);
\draw[dsh] (IV4.east |- IV4c.south) -- (IV4c.south west);
\end{tikzpicture}
\end{document}
